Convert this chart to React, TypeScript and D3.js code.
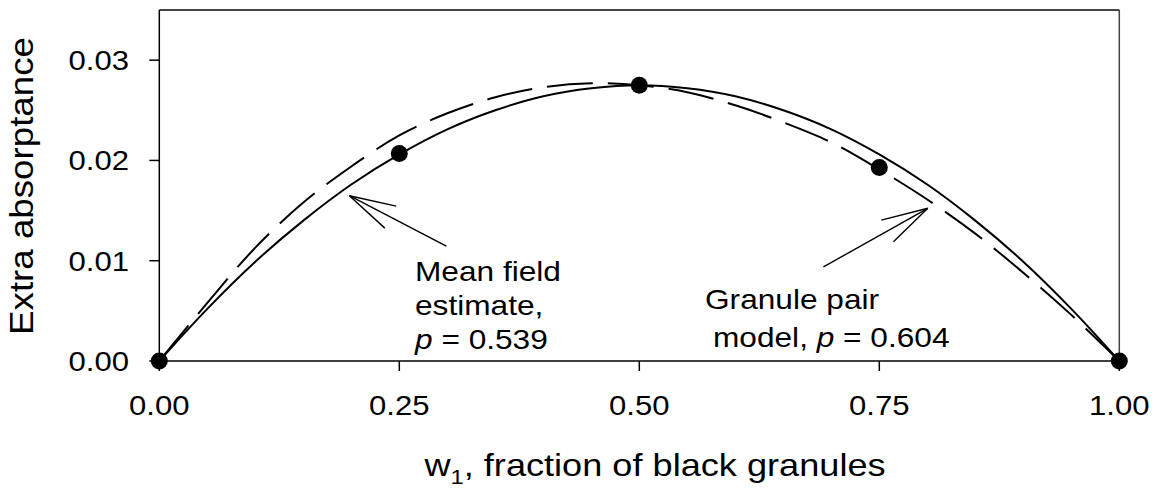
import * as d3 from 'd3';

// fraction of black granules, sampled every 0.05
const wGrid = [0, 0.05, 0.1, 0.15, 0.2, 0.25, 0.3, 0.35, 0.4, 0.45, 0.5, 0.55, 0.6, 0.65, 0.7, 0.75, 0.8, 0.85, 0.9, 0.95, 1];
// mean field estimate (solid), p = 0.539
const meanField = [0, 0.0052, 0.0099, 0.014, 0.0176, 0.0206, 0.0231, 0.025, 0.0264, 0.0272, 0.0275, 0.0272, 0.0264, 0.025, 0.0231, 0.0206, 0.0176, 0.014, 0.0099, 0.0052, 0];
// granule pair model (dashed), p = 0.604
const pairModel = [0, 0.0058, 0.0113, 0.0158, 0.0194, 0.0225, 0.0247, 0.0263, 0.0273, 0.0277, 0.0275, 0.0268, 0.0255, 0.0238, 0.0218, 0.0191, 0.0161, 0.0127, 0.0088, 0.0046, 0];
// simulated points
const sampleW = [0, 0.25, 0.5, 0.75, 1];
const sampleAbs = [0, 0.0207, 0.0275, 0.0193, 0];

const xTicks = [0, 0.25, 0.5, 0.75, 1];
const yTicks = [0, 0.01, 0.02, 0.03];

const width = 1156;
const height = 492;
const left = 159.3;
const right = 1119.3;
const top = 10;
const bottom = 361;
const font = '"Liberation Sans", Arial, sans-serif';
const stretch = 1.13;

const x = d3.scaleLinear().domain([0, 1]).range([left, right]);
const y = d3.scaleLinear().domain([0, 0.035]).range([bottom, top]);

function Label(props: any) {
  const { px, py, size, anchor = 'start', rotate = 0, children } = props;
  return (
    <text
      transform={`translate(${px},${py}) rotate(${rotate}) scale(${stretch},1)`}
      textAnchor={anchor}
      fontSize={size}
      fontFamily={font}
      fill="#000"
    >
      {children}
    </text>
  );
}

// open arrow: tip and tail in data units
function Arrow(props: any) {
  const { tip, tail } = props;
  const tx = x(tip[0]), ty = y(tip[1]);
  const sx = x(tail[0]), sy = y(tail[1]);
  const ang = Math.atan2(sy - ty, sx - tx);
  const len = 48;
  const spread = (15 * Math.PI) / 180;
  const barbs = [ang - spread, ang + spread].map((a) => [tx + len * Math.cos(a), ty + len * Math.sin(a)]);
  return (
    <g stroke="#000" strokeWidth={1.4} fill="none">
      <line x1={sx} y1={sy} x2={tx} y2={ty} />
      {barbs.map((b, i) => (
        <line key={i} x1={tx} y1={ty} x2={b[0]} y2={b[1]} />
      ))}
    </g>
  );
}

export default function App() {
  const line = d3
    .line<number>()
    .x((_, i) => x(wGrid[i]))
    .y((d) => y(d))
    .curve(d3.curveCatmullRom.alpha(0.5));
  const fmt = d3.format('.2f');

  return (
    <svg
      width={width}
      height={height}
      style={{ position: 'absolute', left: 0, top: 0, background: '#fff' }}
    >
      {/* frame */}
      <line x1={left} y1={top} x2={right} y2={top} stroke="#444" strokeWidth={2} />
      <line x1={right} y1={top} x2={right} y2={bottom} stroke="#444" strokeWidth={1.5} />
      <line x1={left} y1={top} x2={left} y2={bottom} stroke="#000" strokeWidth={1.5} />
      <line x1={left} y1={bottom} x2={right} y2={bottom} stroke="#000" strokeWidth={1.5} />

      {yTicks.map((t) => (
        <g key={`y${t}`}>
          <line x1={left - 10} x2={left} y1={y(t)} y2={y(t)} stroke="#000" strokeWidth={1.5} />
          <Label px={129} py={y(t) + 10} size={27.5} anchor="end">{fmt(t)}</Label>
        </g>
      ))}
      {xTicks.map((t) => (
        <g key={`x${t}`}>
          <line x1={x(t)} x2={x(t)} y1={bottom} y2={bottom + 10} stroke="#000" strokeWidth={1.5} />
          <Label px={x(t)} py={415} size={27.5} anchor="middle">{fmt(t)}</Label>
        </g>
      ))}

      <path d={line(meanField) as string} fill="none" stroke="#000" strokeWidth={2} />
      <path d={line(pairModel) as string} fill="none" stroke="#000" strokeWidth={2} strokeDasharray="46 15" />

      {sampleW.map((w, i) => (
        <circle key={w} cx={x(w)} cy={y(sampleAbs[i])} r={8.5} fill="#000" />
      ))}

      <Arrow tip={[0.198, 0.01648]} tail={[0.299, 0.01146]} />
      <Arrow tip={[0.8005, 0.01523]} tail={[0.6918, 0.00938]} />

      <Label px={415} py={281} size={28}>Mean field</Label>
      <Label px={415} py={315} size={28}>estimate,</Label>
      <Label px={415} py={349} size={28}>
        <tspan fontStyle="italic">p</tspan> = 0.539
      </Label>
      <Label px={705} py={309} size={28}>Granule pair</Label>
      <Label px={713} py={347} size={28}>
        model, <tspan fontStyle="italic">p</tspan> = 0.604
      </Label>

      <Label px={33} py={186} size={32.5} anchor="middle" rotate={-90}>Extra absorptance</Label>
      <Label px={655} py={476} size={32} anchor="middle">
        w<tspan fontSize={21} dy={8}>1</tspan>
        <tspan dy={-8}>, fraction of black granules</tspan>
      </Label>
    </svg>
  );
}
